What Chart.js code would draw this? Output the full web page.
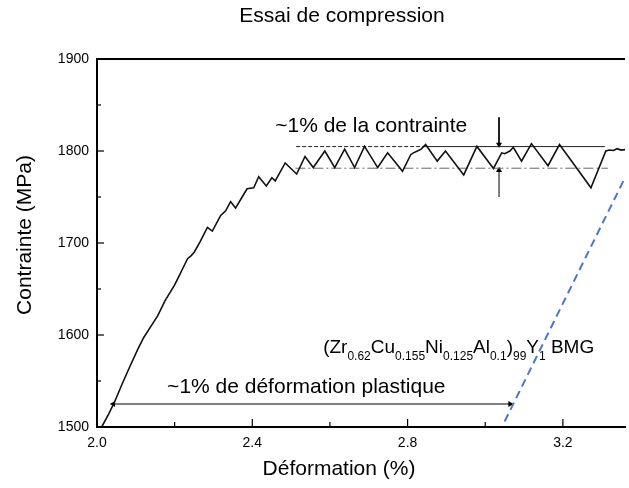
<!DOCTYPE html>
<html>
<head>
<meta charset="utf-8">
<script src="https://cdn.jsdelivr.net/npm/chart.js@4.4.1/dist/chart.umd.min.js"></script>
<style>
html,body{margin:0;padding:0;background:#fff;}
#wrap{width:629px;height:488px;position:relative;}
</style>
</head>
<body>
<div id="wrap"><canvas id="c" width="629" height="488"></canvas></div>
<script>
// ---- data ----
const titleText = 'Essai de compression';
const xTitle = 'Déformation (%)';
const yTitle = 'Contrainte (MPa)';
const xMajor = [2.0, 2.4, 2.8, 3.2];
const xLabels = ['2.0', '2.4', '2.8', '3.2'];
const xMinor = [2.2, 2.6, 3.0];
const yMajor = [1500, 1600, 1700, 1800, 1900];
const yLabels = ['1500', '1600', '1700', '1800', '1900'];
const yMinor = [1550, 1650, 1750, 1850];

const curveX = [2.012, 2.03, 2.046, 2.065, 2.085, 2.1055, 2.12, 2.135, 2.1566, 2.175, 2.1993, 2.21, 2.2205, 2.2333, 2.242, 2.2504, 2.265, 2.2844, 2.2971, 2.3186, 2.3314, 2.3441, 2.3569, 2.3738, 2.3866, 2.4037, 2.4165, 2.4361, 2.4504, 2.4591, 2.4847, 2.5143, 2.5358, 2.557, 2.5869, 2.6124, 2.6379, 2.6635, 2.6891, 2.723, 2.7486, 2.7869, 2.8081, 2.815, 2.8253, 2.835, 2.8465, 2.8763, 2.8976, 2.9446, 2.9785, 3.0212, 3.0424, 3.05, 3.0636, 3.0723, 3.0935, 3.119, 3.1617, 3.1913, 3.2723, 3.3106, 3.32, 3.33, 3.34, 3.35, 3.36];
const curveY = [1500, 1514, 1528, 1547, 1566, 1585, 1597, 1607, 1621, 1637, 1654, 1663, 1672, 1683, 1686, 1690, 1701, 1717, 1713, 1730, 1735, 1745, 1738, 1750, 1759, 1760, 1772, 1762, 1771, 1767.5, 1787, 1775, 1794, 1782, 1800, 1782, 1802, 1782, 1805, 1782, 1798, 1778, 1796, 1798, 1800, 1802, 1807, 1789, 1800, 1774, 1805, 1781, 1798, 1797, 1800, 1804, 1789, 1808, 1784, 1807, 1760, 1800, 1801, 1800.5, 1802.5, 1801, 1801.5];

const unloadX = [3.05, 3.36];
const unloadY = [1506, 1771];

const upperDashX = [2.513, 2.845];
const upperSolidX = [2.845, 3.308];
const upperY = 1804.8;
const lowerX = [2.511, 3.316];
const lowerY = 1781.3;

const hArrowX = [2.042, 3.064];
const hArrowY = 1525;
const vArrowX = 3.0355;
const vArrowTopY = [1836.5, 1807];
const vArrowBotY = [1750, 1779];

const stressNote = '~1% de la contrainte';
const strainNote = '~1% de déformation plastique';
const alloyParts = [['(Zr',0],['0.62',1],['Cu',0],['0.155',1],['Ni',0],['0.125',1],['Al',0],['0.1',1],[')',0],['99',1],['Y',0],['1',1],[' BMG',0]];

// ---- build ----
const pts = (xs, ys) => xs.map((v, i) => ({x: v, y: Array.isArray(ys) ? ys[i] : ys}));
const FONT = '"Liberation Sans", Arial, sans-serif';

const annot = {
  id: 'annot',
  afterDraw(chart) {
    const {ctx, chartArea: ca, scales: {x, y}} = chart;
    ctx.save();
    ctx.strokeStyle = '#000';
    ctx.lineWidth = 2;
    ctx.beginPath(); ctx.moveTo(ca.left - 1, ca.top); ctx.lineTo(ca.right, ca.top); ctx.stroke();
    ctx.lineWidth = 1.2;
    const seg = (a, b, c, d) => { ctx.beginPath(); ctx.moveTo(a, b); ctx.lineTo(c, d); ctx.stroke(); };
    xMajor.forEach(v => { const p = x.getPixelForValue(v); seg(p, ca.bottom, p, ca.bottom - 8); });
    xMinor.forEach(v => { const p = x.getPixelForValue(v); seg(p, ca.bottom, p, ca.bottom - 5); });
    yMajor.forEach(v => { const p = y.getPixelForValue(v); seg(ca.left, p, ca.left + 7, p); });
    yMinor.forEach(v => { const p = y.getPixelForValue(v); seg(ca.left, p, ca.left + 4, p); });

    ctx.fillStyle = '#000';
    // tick labels
    ctx.font = '14px ' + FONT;
    ctx.textAlign = 'center'; ctx.textBaseline = 'middle';
    xMajor.forEach((v, i) => ctx.fillText(xLabels[i], x.getPixelForValue(v), ca.bottom + 16));
    ctx.textAlign = 'right';
    yMajor.forEach((v, i) => ctx.fillText(yLabels[i], ca.left - 8, y.getPixelForValue(v)));

    // titles
    ctx.font = '21px ' + FONT;
    ctx.textAlign = 'center'; ctx.textBaseline = 'middle';
    ctx.fillText(titleText, 342, 16);
    ctx.fillText(xTitle, 339, 469);
    ctx.save();
    ctx.translate(25, 235); ctx.rotate(-Math.PI / 2);
    ctx.fillText(yTitle, 0, 0);
    ctx.restore();

    // notes
    ctx.textAlign = 'left'; ctx.textBaseline = 'alphabetic';
    ctx.font = '21px ' + FONT;
    ctx.fillText(stressNote, x.getPixelForValue(2.459), y.getPixelForValue(1820.2));
    ctx.fillText(strainNote, x.getPixelForValue(2.1806), y.getPixelForValue(1536.7));

    let px = x.getPixelForValue(2.5825);
    const base = y.getPixelForValue(1580.2);
    alloyParts.forEach(([t, sub]) => {
      ctx.font = (sub ? '12px ' : '19px ') + FONT;
      ctx.fillText(t, px, sub ? base + 7 : base);
      px += ctx.measureText(t).width;
    });
    ctx.restore();
  }
};

const lineDs = (data, extra) => Object.assign({
  data, borderColor: '#000', borderWidth: 1, pointRadius: 0, fill: false, tension: 0
}, extra);

new Chart(document.getElementById('c'), {
  type: 'line',
  data: {
    datasets: [
      lineDs(pts(curveX, curveY), {borderWidth: 1.6, borderColor: '#111'}),
      lineDs(pts(unloadX, unloadY), {borderColor: '#4a78c8', borderWidth: 2, borderDash: [8, 5]}),
      lineDs(pts(upperDashX, upperY), {borderColor: '#222', borderDash: [4, 2]}),
      lineDs(pts(upperSolidX, upperY), {borderColor: '#222'}),
      lineDs(pts(lowerX, lowerY), {borderColor: '#666', borderDash: [10, 3, 2, 3]}),
      lineDs(pts(hArrowX, hArrowY), {pointRadius: 3.5, pointStyle: 'triangle', pointRotation: [270, 90], pointBackgroundColor: '#000', pointBorderWidth: 0}),
      lineDs(pts([vArrowX, vArrowX], vArrowTopY), {pointRadius: [0, 3.5], pointStyle: 'triangle', pointRotation: 180, pointBackgroundColor: '#000', pointBorderWidth: 0}),
      lineDs(pts([vArrowX, vArrowX], vArrowBotY), {pointRadius: [0, 3.5], pointStyle: 'triangle', pointRotation: 0, pointBackgroundColor: '#000', pointBorderWidth: 0})
    ]
  },
  options: {
    responsive: false,
    animation: false,
    clip: false,
    layout: {padding: {left: 0, right: 0, top: 59, bottom: 0}},
    plugins: {legend: {display: false}, tooltip: {enabled: false}, title: {display: false}},
    scales: {
      x: {
        type: 'linear', min: 2.0, max: 3.36,
        grid: {display: false},
        border: {display: true, color: '#000', width: 2},
        ticks: {display: false},
        afterFit(s) { s.height = 61; }
      },
      y: {
        type: 'linear', min: 1500, max: 1900,
        grid: {display: false},
        border: {display: true, color: '#000', width: 2},
        ticks: {display: false},
        afterFit(s) { s.width = 97; }
      }
    }
  },
  plugins: [annot]
});
</script>
</body>
</html>
